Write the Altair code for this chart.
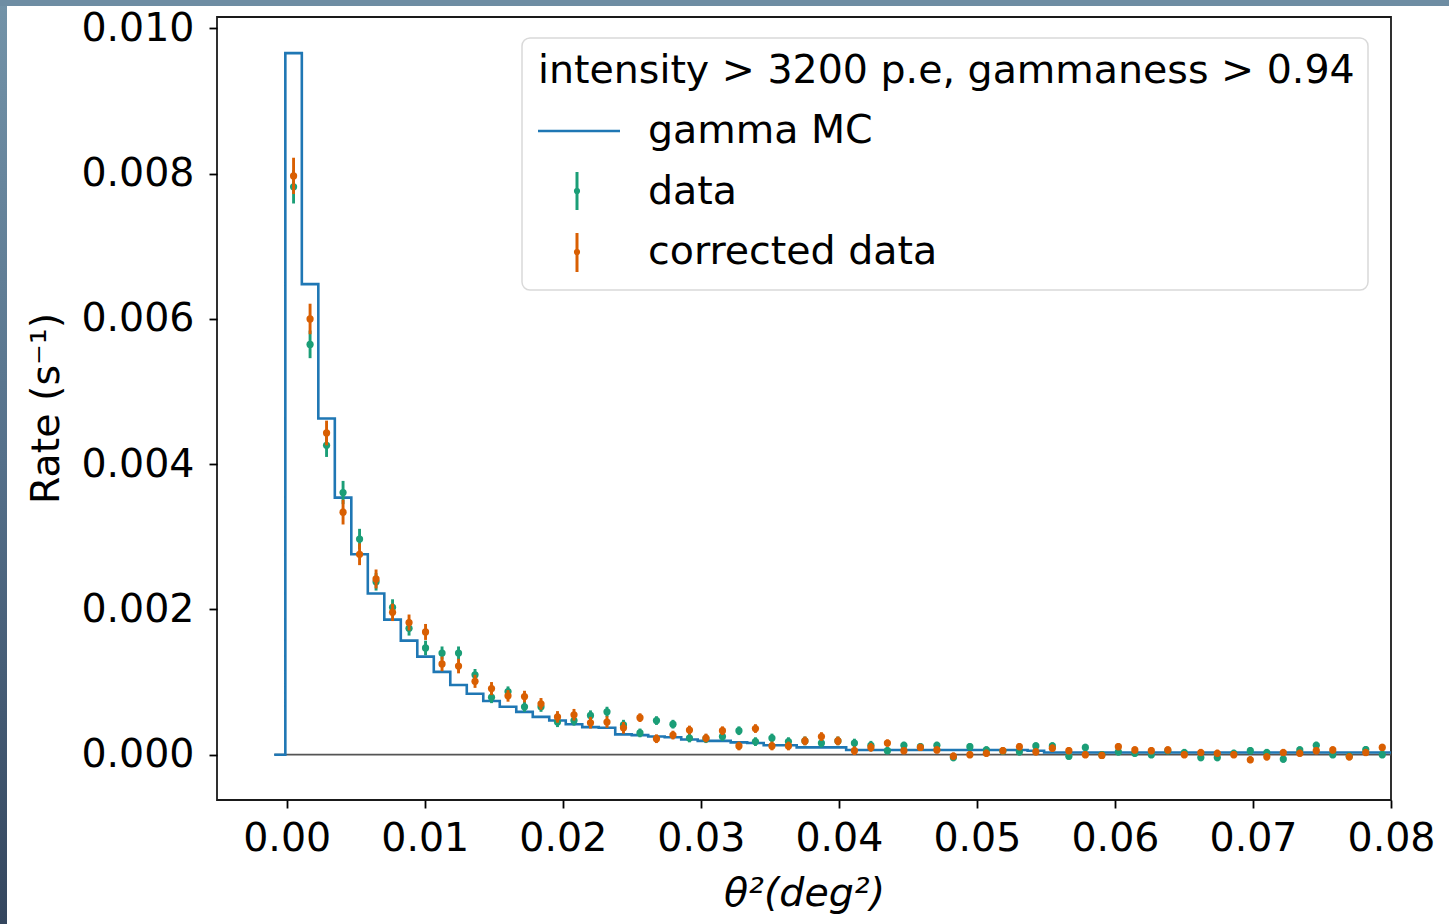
import altair as alt
import pandas as pd
import numpy as np

# ---------------- data ----------------
BIN_START = -0.0001      # first bin edge (deg^2)
BIN_WIDTH = 0.001195     # bin width (deg^2)
MC_LEAD = -0.0009        # start of the zero-level lead-in of the MC step curve

mc_rate = [0.00966, 0.00648, 0.00463, 0.00354, 0.00276, 0.00222, 0.00186, 0.00157, 0.00135, 0.00114,
           0.00096, 0.00084, 0.00074, 0.00066, 0.00059, 0.00052, 0.00047, 0.00042, 0.00038, 0.00037,
           0.00028, 0.00027, 0.00025, 0.00024, 0.00021, 0.00019, 0.00019, 0.00017, 0.00016, 0.00013,
           0.00013, 0.00010, 0.00010, 0.00010, 0.000065, 0.000065, 0.000065, 0.000065, 0.000065, 0.000065,
           0.000065, 0.000065, 0.000065, 0.000065, 0.000065, 0.000055, 0.00003, 0.00003, 0.00003, 0.00003,
           0.00003, 0.00003, 0.00003, 0.00003, 0.00003, 0.00003, 0.00003, 0.00003, 0.00003, 0.00003,
           0.00003, 0.00003, 0.00003, 0.00003, 0.00003, 0.00003, 0.00003, 0.00003]

data_rate = [0.00782, 0.00565, 0.00426, 0.00361, 0.00297, 0.00238, 0.00203, 0.00174, 0.00147, 0.00140,
             0.00140, 0.00110, 0.00079, 0.00087, 0.00066, 0.00066, 0.00045, 0.00047, 0.00054, 0.00059,
             0.00041, 0.00030, 0.00047, 0.00042, 0.00023, 0.00022, 0.00025, 0.00033, 0.00018, 0.00023,
             0.00018, 0.00019, 0.00016, 0.00019, 0.00016, 0.00013, 0.000055, 0.00013, 0.00011, 0.00013,
             -0.00004, 0.00011, 0.000065, 0.00005, 0.00004, 0.00012, 0.00012, -0.00002, 0.00010, 0.0,
             0.00004, 0.00002, 0.0, 0.000055, 0.00003, -0.00004, -0.00004, 0.00002, 0.000055, 0.00003,
             -0.00006, 0.000065, 0.00013, 0.0, -0.00002, 0.00007, 0.0]

data_err = [0.00023, 0.00019, 0.00016, 0.00016, 0.00014, 0.00012, 0.00011, 0.00010, 0.00010, 0.00009,
            0.00009, 0.00008, 0.00008, 0.00007, 0.00007, 0.00007, 0.00007, 0.00007, 0.00007, 0.00007,
            0.00007, 0.00006, 0.00006, 0.00006, 0.00006, 0.00006, 0.00006, 0.00006, 0.00006, 0.00006,
            0.00006, 0.00006, 0.00006, 0.00006, 0.00006, 0.00006, 0.00005, 0.00005, 0.00005, 0.00005,
            0.00005, 0.00005, 0.00005, 0.00005, 0.00005, 0.00005, 0.00005, 0.00005, 0.00005, 0.00005,
            0.00005, 0.00005, 0.00005, 0.00005, 0.00005, 0.00005, 0.00005, 0.00005, 0.00005, 0.00005,
            0.00005, 0.00005, 0.00005, 0.00005, 0.00005, 0.00005, 0.00005]

corr_rate = [0.00797, 0.00600, 0.00443, 0.00334, 0.00276, 0.00242, 0.00196, 0.00182, 0.00169, 0.00125,
             0.00122, 0.00101, 0.00091, 0.00081, 0.00080, 0.00070, 0.00052, 0.00055, 0.00044, 0.00045,
             0.00037, 0.00051, 0.00022, 0.00027, 0.00034, 0.00023, 0.00033, 0.00012, 0.00036, 0.00012,
             0.00012, 0.00019, 0.00025, 0.00019, 0.000055, 0.00010, 0.00016, 0.000055, 0.00010, 0.000065,
             -0.00002, 0.0, 0.00002, 0.000055, 0.00011, 0.00004, 0.00009, 0.000055, 0.0, -0.00001,
             0.00011, 0.000065, 0.000055, 0.000065, 0.0, 0.00003, 0.00002, 0.0, -0.00007, -0.00003,
             0.00003, 0.00002, 0.000055, 0.000065, -0.00003, 0.00003, 0.00010]

corr_err = [0.00025, 0.00021, 0.00017, 0.00017, 0.00015, 0.00013, 0.00012, 0.00011, 0.00011, 0.00010,
            0.00010, 0.00009, 0.00009, 0.00008, 0.00008, 0.00008, 0.00008, 0.00008, 0.00008, 0.00008,
            0.00008, 0.00006, 0.00006, 0.00006, 0.00006, 0.00006, 0.00006, 0.00006, 0.00006, 0.00006,
            0.00006, 0.00006, 0.00006, 0.00006, 0.00006, 0.00006, 0.00005, 0.00005, 0.00005, 0.00005,
            0.00005, 0.00005, 0.00005, 0.00005, 0.00005, 0.00005, 0.00005, 0.00005, 0.00005, 0.00005,
            0.00005, 0.00005, 0.00005, 0.00005, 0.00005, 0.00005, 0.00005, 0.00005, 0.00005, 0.00005,
            0.00005, 0.00005, 0.00005, 0.00005, 0.00005, 0.00005, 0.00005]

X_TICKS = [0.0, 0.01, 0.02, 0.03, 0.04, 0.05, 0.06, 0.07, 0.08]
Y_TICKS = [0.0, 0.002, 0.004, 0.006, 0.008, 0.010]
X_DOMAIN = [-0.00505, 0.08]
Y_DOMAIN = [-0.000624, 0.010158]

LEGEND_TITLE = "intensity > 3200 p.e, gammaness > 0.94"
LABEL_MC = "gamma MC"
LABEL_DATA = "data"
LABEL_CORR = "corrected data"

BLUE = "#1f77b4"
GREEN = "#1b9e77"
ORANGE = "#d95f02"
FONT = "DejaVu Sans"
FS = 39.5

# ---------------- tables ----------------
n_mc = len(mc_rate)
edges = BIN_START + BIN_WIDTH * np.arange(n_mc + 1)
step_df = pd.DataFrame({
    "x": [MC_LEAD] + list(edges),
    "y": [0.0] + list(mc_rate) + [mc_rate[-1]],
})

n_pts = len(data_rate)
centers = BIN_START + BIN_WIDTH * (np.arange(n_pts) + 0.5)
green_df = pd.DataFrame({
    "x": centers,
    "y": data_rate,
    "lo": np.array(data_rate) - np.array(data_err),
    "hi": np.array(data_rate) + np.array(data_err),
})
orange_df = pd.DataFrame({
    "x": centers,
    "y": corr_rate,
    "lo": np.array(corr_rate) - np.array(corr_err),
    "hi": np.array(corr_rate) + np.array(corr_err),
})
zero_df = pd.DataFrame({"x": [MC_LEAD], "x2": [X_DOMAIN[1]], "y": [0.0]})
one = pd.DataFrame({"a": [0]})

xs = alt.Scale(domain=X_DOMAIN, nice=False, zero=False)
ys = alt.Scale(domain=Y_DOMAIN, nice=False, zero=False)

x_axis = alt.Axis(values=X_TICKS, format=".2f", title="θ²(deg²)", titleFontStyle="italic",
                  labelPadding=11,
                  titleX=587, titleY=93, titleBaseline="middle", titleAlign="center")
y_axis = alt.Axis(values=Y_TICKS, format=".3f", title="Rate (s⁻¹)",
                  labelPadding=15,
                  titleX=-171, titleY=391, titleAngle=270, titleBaseline="middle", titleAlign="center")

zero = alt.Chart(zero_df).mark_rule(color="#555555", strokeWidth=1.8, clip=True).encode(
    x=alt.X("x:Q", scale=xs, axis=x_axis), x2="x2:Q", y=alt.Y("y:Q", scale=ys, axis=y_axis))

mc = alt.Chart(step_df).mark_line(interpolate="step-after", color=BLUE, strokeWidth=2.6, clip=True).encode(
    x=alt.X("x:Q", scale=xs), y=alt.Y("y:Q", scale=ys))


def errpts(df, col):
    bars = alt.Chart(df).mark_rule(color=col, strokeWidth=2.9, clip=True).encode(
        x=alt.X("x:Q", scale=xs), y=alt.Y("lo:Q", scale=ys), y2="hi:Q")
    pts = alt.Chart(df).mark_circle(color=col, size=52, opacity=1, clip=True).encode(
        x=alt.X("x:Q", scale=xs), y=alt.Y("y:Q", scale=ys))
    return bars + pts


green = errpts(green_df, GREEN)
orange = errpts(orange_df, ORANGE)

# ---------------- legend (drawn in pixel space of the plot area) ----------------
leg_box = alt.Chart(one).mark_rect(fill="white", fillOpacity=0.85, stroke="#d9d9d9", strokeWidth=1.5,
                                   cornerRadius=8).encode(
    x=alt.value(305), x2=alt.value(1151), y=alt.value(21), y2=alt.value(273))


def txt(s, x, y):
    return alt.Chart(one).mark_text(text=s, font=FONT, fontSize=FS, align="left", baseline="middle",
                                    color="black").encode(x=alt.value(x), y=alt.value(y))


leg_title = txt(LEGEND_TITLE, 321, 54)
leg_mc_line = alt.Chart(one).mark_rule(color=BLUE, strokeWidth=2.6).encode(
    x=alt.value(321), x2=alt.value(403), y=alt.value(114))
leg_mc_txt = txt(LABEL_MC, 431, 114)
leg_g_bar = alt.Chart(one).mark_rule(color=GREEN, strokeWidth=3).encode(
    x=alt.value(360), y=alt.value(155), y2=alt.value(193))
leg_g_dot = alt.Chart(one).mark_circle(color=GREEN, size=38, opacity=1).encode(
    x=alt.value(360), y=alt.value(174))
leg_g_txt = txt(LABEL_DATA, 431, 175)
leg_o_bar = alt.Chart(one).mark_rule(color=ORANGE, strokeWidth=3).encode(
    x=alt.value(360), y=alt.value(216), y2=alt.value(255))
leg_o_dot = alt.Chart(one).mark_circle(color=ORANGE, size=38, opacity=1).encode(
    x=alt.value(360), y=alt.value(235))
leg_o_txt = txt(LABEL_CORR, 431, 235)

# ---------------- slide frame strips (page decoration) ----------------
left_strip = alt.Chart(one).mark_rect(
    color=alt.Gradient(gradient="linear", x1=0, y1=0, x2=0, y2=1,
                       stops=[alt.GradientStop(color="#7393a8", offset=0),
                              alt.GradientStop(color="#55708a", offset=0.5),
                              alt.GradientStop(color="#34465e", offset=1)])).encode(
    x=alt.value(-217), x2=alt.value(-210), y=alt.value(-17), y2=alt.value(907))
top_strip = alt.Chart(one).mark_rect(color="#6e8da3").encode(
    x=alt.value(-217), x2=alt.value(1232), y=alt.value(-17), y2=alt.value(-11))

chart = alt.layer(
    zero, mc, green, orange,
    leg_box, leg_title, leg_mc_line, leg_mc_txt, leg_g_bar, leg_g_dot, leg_g_txt,
    leg_o_bar, leg_o_dot, leg_o_txt, left_strip, top_strip,
).properties(
    width=1174, height=783,
    padding={"left": 217, "top": 17, "right": 58, "bottom": 124},
    autosize=alt.AutoSizeParams(type="none"),
    background="white",
).configure_view(
    stroke="#1a1a1a", strokeWidth=1.8,
).configure_axis(
    grid=False, domain=False,
    labelFont=FONT, labelFontSize=FS, labelColor="black",
    labelFlush=False, labelOverlap=False,
    tickColor="black", tickWidth=1.8, tickSize=8,
    titleFont=FONT, titleFontSize=FS, titleFontWeight="normal", titleColor="black",
    zindex=1,
)

chart.save("out.html", embed_options={"renderer": "svg", "actions": False})
